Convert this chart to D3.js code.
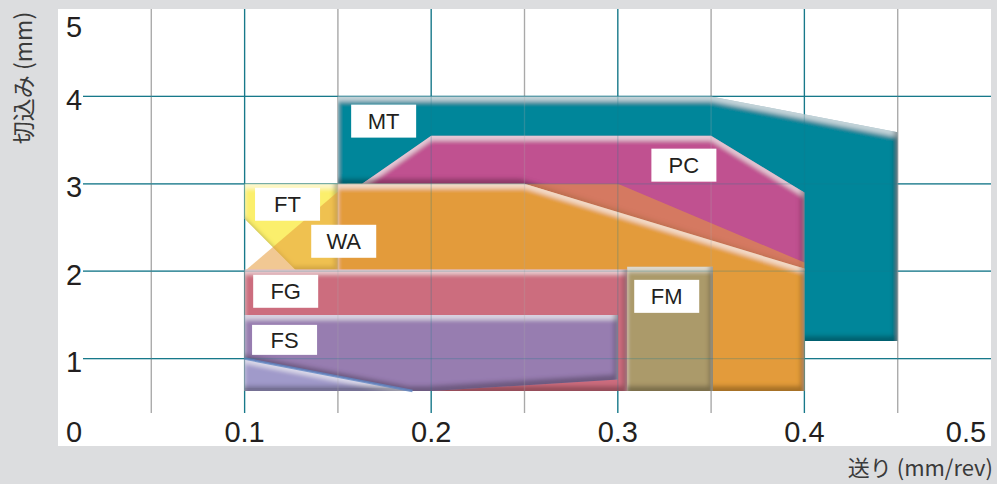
<!DOCTYPE html>
<html>
<head>
<meta charset="utf-8">
<script src="https://cdn.jsdelivr.net/npm/d3@7"></script>
<style>
  body { margin: 0; background: #dcdddf; }
  svg { display: block; }
  text { font-family: "Liberation Sans", Arial, sans-serif; fill: #231f20; }
  .jp { font-family: "Noto Sans CJK JP", sans-serif; fill: #3a3a3a; }
</style>
</head>
<body>
<svg id="chart" width="997" height="484"></svg>
<script>
// axis ticks
const xTicks = [0, 0.1, 0.2, 0.3, 0.4, 0.5];
const yTicks = [1, 2, 3, 4, 5];
const xGrid = [0.05, 0.1, 0.15, 0.2, 0.25, 0.3, 0.35, 0.4, 0.45];
const yGrid = [1, 2, 3, 4];

// chipbreaker application areas [feed, depth]
const MT = [[0.15, 3], [0.15, 4], [0.35, 4], [0.45, 3.59], [0.45, 1.2], [0.36, 1.2], [0.36, 3]];
const PC = [[0.163, 3], [0.2, 3.55], [0.35, 3.55], [0.4, 2.9], [0.4, 2.0], [0.25, 3]];
const FT = [[0.1, 2.6], [0.1, 3], [0.15, 3], [0.15, 2.0], [0.128, 2.0]];
const WA_outer = [[0.1, 2.0], [0.155, 3], [0.3, 3], [0.4, 2.1], [0.4, 0.63], [0.1, 0.63]];
const WA_core = [[0.15, 0.63], [0.15, 3], [0.25, 3], [0.4, 2.03], [0.4, 0.63]];
const FM = [[0.305, 0.63], [0.305, 2.05], [0.351, 2.05], [0.351, 0.63]];
const FG = [[0.1, 0.63], [0.1, 2.02], [0.305, 2.02], [0.305, 0.63]];
const FS_base = [[0.1, 0.63], [0.1, 1.0], [0.19, 0.63]];
const FS = [[0.1, 1.0], [0.1, 1.5], [0.3, 1.5], [0.3, 0.76], [0.2, 0.63], [0.19, 0.63]];

const labels = ['MT', 'PC', 'FT', 'WA', 'FG', 'FS', 'FM'];
// top-left of label boxes, in data units
const labelAt = {
  MT: [0.1571, 3.906], PC: [0.318, 3.402], FT: [0.1056, 2.955], WA: [0.1357, 2.531],
  FG: [0.1046, 1.959], FS: [0.104, 1.386], FM: [0.3088, 1.901]
};

const plot = { left: 58, right: 991, top: 9, bottom: 446 };
const svg = d3.select('#chart');

const x = d3.scaleLinear().domain([0, 0.5]).range([plot.left, plot.right]);
const y = d3.scaleLinear().domain([0, 5]).range([plot.bottom, plot.top]);

// bevel filter: light top edge, dark bottom/right edge
const defs = svg.append('defs');
const f = defs.append('filter').attr('id', 'bevel')
  .attr('x', '-5%').attr('y', '-5%').attr('width', '110%').attr('height', '110%');
f.append('feGaussianBlur').attr('in', 'SourceAlpha').attr('stdDeviation', 2).attr('result', 'b');
f.append('feOffset').attr('in', 'b').attr('dx', 0).attr('dy', 5).attr('result', 'bo');
f.append('feComposite').attr('in', 'SourceAlpha').attr('in2', 'bo').attr('operator', 'out').attr('result', 'topEdge');
f.append('feFlood').attr('flood-color', '#fff').attr('flood-opacity', 0.55);
f.append('feComposite').attr('in2', 'topEdge').attr('operator', 'in').attr('result', 'hl');
f.append('feOffset').attr('in', 'b').attr('dx', -4).attr('dy', -5).attr('result', 'bo2');
f.append('feComposite').attr('in', 'SourceAlpha').attr('in2', 'bo2').attr('operator', 'out').attr('result', 'brEdge');
f.append('feFlood').attr('flood-color', '#000').attr('flood-opacity', 0.5);
f.append('feComposite').attr('in2', 'brEdge').attr('operator', 'in').attr('result', 'sh');
const m = f.append('feMerge');
m.append('feMergeNode').attr('in', 'SourceGraphic');
m.append('feMergeNode').attr('in', 'hl');
m.append('feMergeNode').attr('in', 'sh');

// white plot area
svg.append('rect')
  .attr('x', plot.left).attr('y', plot.top)
  .attr('width', plot.right - plot.left).attr('height', plot.bottom - plot.top)
  .attr('fill', '#fff');

const teal = '#17798a';
const gridColor = v => (Math.round(v * 100) % 10 === 0 ? teal : '#a9a9a9');

function drawGrid(g, opacity) {
  g.selectAll('line.v').data(xGrid).enter().append('line')
    .attr('x1', d => x(d)).attr('x2', d => x(d))
    .attr('y1', plot.top).attr('y2', 413)
    .attr('stroke', gridColor).attr('stroke-width', 1.3).attr('opacity', opacity);
  g.selectAll('line.h').data(yGrid).enter().append('line')
    .attr('x1', 83).attr('x2', plot.right)
    .attr('y1', d => y(d)).attr('y2', d => y(d))
    .attr('stroke', teal).attr('stroke-width', 1.3).attr('opacity', opacity);
}
drawGrid(svg.append('g'), 1);

const line = d3.line().x(d => x(d[0])).y(d => y(d[1])).curve(d3.curveLinearClosed);

const areas = [
  { pts: MT, fill: '#00869a', op: 1 },
  { pts: PC, fill: '#c05190', op: 1 },
  { pts: FT, fill: '#fbef6c', op: 1 },
  { pts: WA_outer, fill: '#e59a3b', op: 0.55 },
  { pts: WA_core, fill: '#e39b3b', op: 1 },
  { pts: FM, fill: '#ab9a6b', op: 1 },
  { pts: FG, fill: '#cc6d7e', op: 1 },
  { pts: FS_base, fill: '#a09aca', op: 1 },
  { pts: FS, fill: '#977db0', op: 1 }
];

svg.append('g').selectAll('path').data(areas).enter().append('path')
  .attr('d', d => line(d.pts))
  .attr('fill', d => d.fill)
  .attr('fill-opacity', d => d.op)
  .attr('filter', d => (d.op === 1 ? 'url(#bevel)' : null));

// blue edge along FS lower diagonal
svg.append('line')
  .attr('x1', x(FS[0][0])).attr('y1', y(FS[0][1]))
  .attr('x2', x(FS[5][0])).attr('y2', y(FS[5][1]))
  .attr('stroke', '#5f86c4').attr('stroke-width', 2.5).attr('opacity', 0.8);

// grid showing faintly through the areas
drawGrid(svg.append('g'), 0.25);

// labels
const lg = svg.append('g').selectAll('g').data(labels).enter().append('g')
  .attr('transform', d => `translate(${x(labelAt[d][0])},${y(labelAt[d][1])})`);
lg.append('rect').attr('width', 65).attr('height', d => (d === 'FS' ? 30 : 33)).attr('fill', '#fff');
lg.append('text')
  .attr('x', 32.5).attr('y', d => (d === 'FS' ? 15 : 16.5)).attr('dy', '0.36em')
  .attr('text-anchor', 'middle').attr('font-size', 22)
  .text(d => d);

// tick labels
svg.append('g').selectAll('text').data(yTicks).enter().append('text')
  .attr('x', 66)
  .attr('y', d => Math.max(27, y(d) + 3)).attr('dy', '0.36em')
  .attr('font-size', 29)
  .text(d => d);

svg.append('g').selectAll('text').data(xTicks).enter().append('text')
  .attr('x', d => (d === 0 ? 66 : Math.min(966, x(d))))
  .attr('y', 432).attr('dy', '0.36em')
  .attr('text-anchor', d => (d === 0 ? 'start' : 'middle'))
  .attr('font-size', 29)
  .text(d => (d === 0 ? '0' : d3.format('.1f')(d)));

// axis titles
svg.append('text').attr('class', 'jp')
  .attr('transform', 'translate(24,78) rotate(-90)')
  .attr('text-anchor', 'middle').attr('dy', '0.36em')
  .attr('font-size', 23)
  .text('切込み (mm)');

svg.append('text').attr('class', 'jp')
  .attr('x', 993).attr('y', 468).attr('dy', '0.36em')
  .attr('text-anchor', 'end').attr('font-size', 22)
  .text('送り (mm/rev)');
</script>
</body>
</html>
